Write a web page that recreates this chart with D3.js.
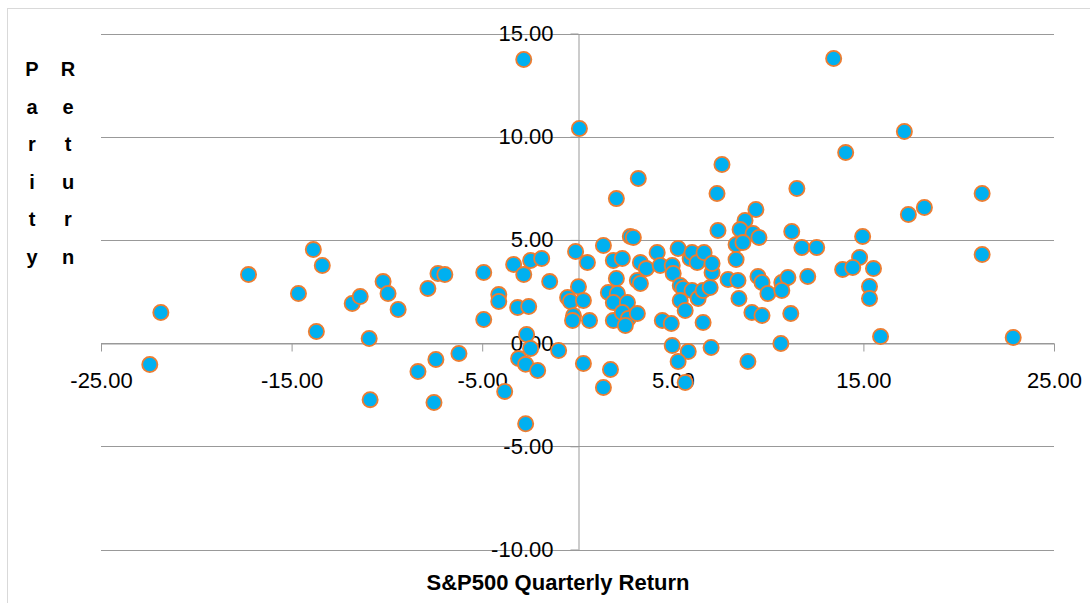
<!DOCTYPE html>
<html>
<head>
<meta charset="utf-8">
<script src="https://cdn.jsdelivr.net/npm/d3@7"></script>
<style>
body { margin: 0; background: #fff; }
text { font-family: "Liberation Sans", Arial, sans-serif; fill: #000; }
</style>
</head>
<body>
<div id="graphe"></div>
<script>
//----------------------------------------------------------------
//  Données : rendement trimestriel S&P500 (x) / rendement parité (y)
//----------------------------------------------------------------
var rendementSP = [
    -22.44, -21.86, -17.26, -14.64, -13.86, -13.39, -13.70, -11.82, -11.40, -10.93,
    -10.88, -10.20, -9.94, -9.41, -8.37, -7.85, -7.53, -7.43, -7.32, -6.96,
    -6.22, -4.92, -4.92, -4.13, -4.13, -3.82, -3.35, -2.82, -2.46, -1.88,
    -3.14, -2.56, -1.46, -2.72, -2.67, -2.46, -3.09, -2.72, -2.09, -0.99,
    -2.82, 0.10, -0.10, 0.05, -0.52, -0.37, -0.21, -0.26, 0.31, 0.63,
    0.52, 0.31, 1.36, 2.04, 3.19, 2.77, 2.93, 1.88, 2.35, 3.30,
    3.61, 4.18, 4.34, 4.97, 5.02, 5.28, 5.91, 6.01, 6.28, 6.64,
    2.04, 3.14, 3.30, 1.62, 2.09, 1.88, 2.62, 1.88, 2.35, 2.67,
    3.14, 2.51, 1.73, 1.36, 4.45, 4.92, 5.39, 5.54, 5.39, 5.65,
    6.01, 6.33, 6.59, 6.96, 6.59, 4.97, 5.81, 5.28, 5.65, 7.01,
    8.94, 10.67, 7.37, 7.06, 7.06, 8.32, 8.32, 7.90, 8.42, 8.47,
    9.15, 9.68, 9.47, 9.68, 9.99, 10.72, 11.04, 10.72, 11.19, 7.58,
    7.32, 9.36, 8.79, 8.53, 9.21, 9.52, 8.68, 11.24, 11.77, 12.55,
    12.08, 13.44, 17.15, 14.07, 11.51, 21.23, 17.36, 18.20, 14.96, 21.23,
    14.80, 13.91, 14.44, 15.53, 15.32, 15.32, 15.90, 22.86
];
var rendementParite = [
    -1.04, 1.48, 3.32, 2.40, 4.53, 3.76, 0.56, 1.92, 2.26, 0.22,
    -2.74, 2.98, 2.40, 1.63, -1.38, 2.65, -2.88, -0.79, 3.37, 3.32,
    -0.50, 3.42, 1.14, 2.35, 2.02, -2.34, 3.81, 3.32, 4.00, 4.10,
    1.72, 1.77, 2.98, -3.91, 0.42, -0.26, -0.75, -1.03, -1.33, -0.36,
    13.74, 10.40, 4.44, 2.73, 2.21, 2.02, 1.33, 1.09, 2.06, 1.09,
    3.90, -0.99, 4.73, 7.00, 7.97, 5.17, 5.12, 4.00, 4.10, 3.90,
    3.61, 4.39, 3.76, 3.76, 3.37, 4.58, 4.10, 4.39, 3.90, 4.39,
    3.13, 3.03, 2.89, 2.45, 2.40, 1.97, 1.97, 1.09, 1.48, 1.19,
    1.43, 0.85, -1.28, -2.15, 1.09, 0.95, 2.79, 2.65, 2.06, 1.58,
    2.55, 2.16, 2.55, 2.69, 1.00, -0.12, -0.41, -0.89, -1.91, -0.21,
    -0.89, -0.02, 5.46, 3.42, 3.86, 4.78, 4.05, 3.08, 3.03, 2.16,
    1.48, 1.34, 3.23, 2.94, 2.40, 2.94, 3.18, 2.55, 1.43, 8.65,
    7.25, 6.47, 5.94, 5.50, 5.31, 5.12, 4.87, 5.41, 4.63, 4.63,
    3.23, 13.79, 10.25, 9.23, 7.49, 7.25, 6.23, 6.57, 5.17, 4.29,
    4.15, 3.57, 3.66, 3.61, 2.74, 2.16, 0.32, 0.27
];

// graduations des axes
var ticksX = [-25, -15, -5, 5, 15, 25];
var ticksY = [-10, -5, 0, 5, 10, 15];

// titres
var titreX = "S&P500 Quarterly Return";
var titreY = ["Parity", "Return"];

//----------------------------------------------------------------
//  Création du svg
//----------------------------------------------------------------
var largeurSvg = 1090, hauteurSvg = 603;
var couleurGrille = "#999999";

var svg = d3.select("#graphe")
    .append("svg")
    .attr("width", largeurSvg)
    .attr("height", hauteurSvg);

// cadre du graphique (coupé à droite et en bas)
svg.append("rect")
    .attr("x", 7.5).attr("y", 8.5)
    .attr("width", 1200).attr("height", 800)
    .attr("fill", "none")
    .attr("stroke", "#d9d9d9");

var x = d3.scaleLinear().domain([-25, 25]).range([101, 1054]);
var y = d3.scaleLinear().domain([-10, 15]).range([549.5, 33.5]);

var format2 = function(d) { return d.toFixed(2); };

//----------------------------------------------------------------
//  Grille horizontale
//----------------------------------------------------------------
svg.append("g")
    .selectAll("line")
    .data(ticksY)
    .enter().append("line")
        .attr("x1", x(-25))
        .attr("x2", x(25))
        .attr("y1", function(d) { return Math.round(y(d)) + 0.5; })
        .attr("y2", function(d) { return Math.round(y(d)) + 0.5; })
        .attr("stroke", couleurGrille)
        .attr("stroke-width", 1);

//----------------------------------------------------------------
//  Axes qui se croisent en 0
//----------------------------------------------------------------
var axeX = svg.append("g")
    .attr("transform", "translate(0," + (Math.round(y(0)) + 0.5) + ")")
    .call(d3.axisBottom(x)
        .tickValues(ticksX)
        .tickSize(8)
        .tickSizeOuter(0)
        .tickPadding(21)
        .tickFormat(format2));

var axeY = svg.append("g")
    .attr("transform", "translate(" + (Math.round(x(0)) + 0.5) + ",0)")
    .call(d3.axisLeft(y)
        .tickValues(ticksY)
        .tickSize(8)
        .tickSizeOuter(0)
        .tickPadding(17)
        .tickFormat(format2));

[axeX, axeY].forEach(function(a) {
    a.select(".domain").attr("stroke", couleurGrille);
    a.selectAll(".tick line").attr("stroke", couleurGrille);
    a.selectAll(".tick text")
        .attr("font-size", 22)
        .attr("font-family", "Liberation Sans, Arial, sans-serif")
        .attr("fill", "#000");
});

//----------------------------------------------------------------
//  Points
//----------------------------------------------------------------
var points = rendementSP.map(function(v, i) { return {sp: v, parite: rendementParite[i]}; });

svg.append("g")
    .selectAll("circle")
    .data(points)
    .enter().append("circle")
        .attr("cx", function(d) { return x(d.sp); })
        .attr("cy", function(d) { return y(d.parite); })
        .attr("r", 7.6)
        .attr("fill", "#00b0f0")
        .attr("stroke", "#ed7d31")
        .attr("stroke-width", 1.8);

//----------------------------------------------------------------
//  Titres des axes
//----------------------------------------------------------------
svg.append("text")
    .attr("x", 558)
    .attr("y", 590)
    .attr("text-anchor", "middle")
    .attr("font-size", 22)
    .attr("font-weight", "bold")
    .text(titreX);

// titre vertical : une lettre par ligne, un mot par colonne
titreY.forEach(function(mot, j) {
    svg.append("g")
        .selectAll("text")
        .data(mot.split(""))
        .enter().append("text")
            .attr("x", 32 + j * 36)
            .attr("y", function(d, i) { return 69 + i * 37.5; })
            .attr("dy", "0.35em")
            .attr("text-anchor", "middle")
            .attr("font-size", 20)
            .attr("font-weight", "bold")
            .text(function(d) { return d; });
});
</script>
</body>
</html>
